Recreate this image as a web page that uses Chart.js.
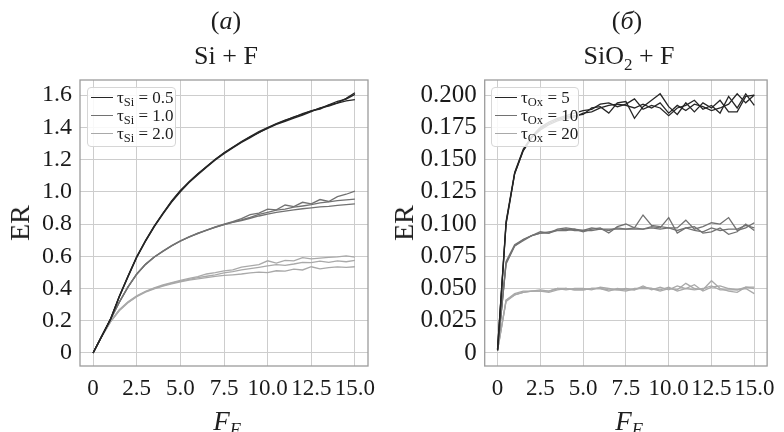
<!DOCTYPE html>
<html>
<head>
<meta charset="utf-8">
<script src="https://cdn.jsdelivr.net/npm/chart.js@4.4.1/dist/chart.umd.min.js"></script>
<style>
  body { margin: 0; background: #fff; }
  #wrap { position: relative; width: 784px; height: 432px; overflow: hidden;
          font-family: "Liberation Serif", "Times New Roman", serif; color: #1e1e1e; }
  canvas { position: absolute; top: 0; }
  .lbl { position: absolute; white-space: nowrap; line-height: 1; }
  .ttl { font-size: 26px; transform: translateX(-50%); }
  .ylab { font-size: 28px; transform: translate(-50%, -50%) rotate(-90deg); }
  .xlab { font-size: 27px; font-style: italic; transform: translateX(-50%); }
  .xlab span { font-size: 18px; position: relative; top: 6px; }
  .legend { position: absolute; border: 1px solid #d6d6d6; border-radius: 4px;
            background: rgba(255,255,255,0.85); box-sizing: border-box; }
  .lline { position: absolute; height: 0; width: 22px; border-top: 1.6px solid; }
  .ltxt { position: absolute; font-size: 17px; line-height: 18px; white-space: nowrap; }
  .ltxt span { font-size: 12.5px; position: relative; top: 3px; }
</style>
</head>
<body>
<div id="wrap">
  <canvas id="chartSi" width="392" height="432" style="left:0"></canvas>
  <canvas id="chartOx" width="392" height="432" style="left:392px"></canvas>

  <div class="lbl ttl" style="left:226px; top:8px">(<i>a</i>)</div>
  <div class="lbl ttl" style="left:226px; top:43px">Si + F</div>
  <div class="lbl ttl" style="left:627px; top:8px">(<i>б</i>)</div>
  <div class="lbl ttl" style="left:629px; top:43px">SiO<span style="font-size:17px; position:relative; top:6px">2</span> + F</div>

  <div class="lbl ylab" style="left:20px; top:223px">ER</div>
  <div class="lbl ylab" style="left:404px; top:223px">ER</div>
  <div class="lbl xlab" style="left:227px; top:408px">F<span>F</span></div>
  <div class="lbl xlab" style="left:629px; top:408px">F<span>F</span></div>

  <div class="legend" style="left:87px; top:87px; width:89px; height:60px">
    <div class="lline" style="left:3px; top:9px; border-color:#262626"></div>
    <div class="ltxt" style="left:29px; top:1px">τ<span>Si</span> = 0.5</div>
    <div class="lline" style="left:3px; top:27px; border-color:#727272"></div>
    <div class="ltxt" style="left:29px; top:19px">τ<span>Si</span> = 1.0</div>
    <div class="lline" style="left:3px; top:45px; border-color:#a9a9a9"></div>
    <div class="ltxt" style="left:29px; top:37px">τ<span>Si</span> = 2.0</div>
  </div>
  <div class="legend" style="left:491px; top:87px; width:88px; height:60px">
    <div class="lline" style="left:3px; top:9px; border-color:#262626"></div>
    <div class="ltxt" style="left:29px; top:1px">τ<span>Ox</span> = 5</div>
    <div class="lline" style="left:3px; top:27px; border-color:#727272"></div>
    <div class="ltxt" style="left:29px; top:19px">τ<span>Ox</span> = 10</div>
    <div class="lline" style="left:3px; top:45px; border-color:#a9a9a9"></div>
    <div class="ltxt" style="left:29px; top:37px">τ<span>Ox</span> = 20</div>
  </div>
</div>

<script>
// fluence points, 0..15 step 0.5
const xs = [0, 0.5, 1, 1.5, 2, 2.5, 3, 3.5, 4, 4.5, 5, 5.5, 6, 6.5, 7, 7.5,
  8, 8.5, 9, 9.5, 10, 10.5, 11, 11.5, 12, 12.5, 13, 13.5, 14, 14.5, 15];

// (a) Si + F, three runs for each tau
const si05a = [0, 0.105, 0.21, 0.352, 0.476, 0.596, 0.697, 0.787, 0.866, 0.941, 1.006, 1.062, 1.111, 1.157, 1.201, 1.243, 1.277, 1.312, 1.343, 1.374, 1.398, 1.423, 1.445, 1.462, 1.486, 1.503, 1.518, 1.54, 1.562, 1.575, 1.605];
const si05b = [0, 0.104, 0.208, 0.347, 0.472, 0.592, 0.692, 0.782, 0.862, 0.936, 1.0, 1.057, 1.106, 1.152, 1.197, 1.236, 1.272, 1.306, 1.336, 1.368, 1.393, 1.418, 1.437, 1.458, 1.476, 1.498, 1.521, 1.532, 1.55, 1.565, 1.572];
const si05c = [0, 0.106, 0.212, 0.35, 0.478, 0.598, 0.696, 0.786, 0.867, 0.943, 1.008, 1.061, 1.112, 1.156, 1.202, 1.241, 1.276, 1.309, 1.341, 1.367, 1.397, 1.421, 1.442, 1.465, 1.481, 1.503, 1.514, 1.538, 1.552, 1.58, 1.615];
const si10a = [0, 0.105, 0.21, 0.316, 0.41, 0.49, 0.551, 0.596, 0.633, 0.666, 0.696, 0.721, 0.744, 0.763, 0.782, 0.80, 0.815, 0.834, 0.858, 0.868, 0.893, 0.888, 0.918, 0.908, 0.935, 0.925, 0.952, 0.94, 0.97, 0.985, 1.005];
const si10b = [0, 0.104, 0.208, 0.314, 0.408, 0.488, 0.548, 0.594, 0.63, 0.664, 0.693, 0.72, 0.741, 0.762, 0.779, 0.797, 0.812, 0.826, 0.842, 0.86, 0.873, 0.886, 0.893, 0.905, 0.912, 0.92, 0.932, 0.938, 0.945, 0.95, 0.955];
const si10c = [0, 0.105, 0.209, 0.315, 0.41, 0.49, 0.55, 0.596, 0.631, 0.665, 0.695, 0.718, 0.742, 0.76, 0.781, 0.796, 0.81, 0.822, 0.836, 0.85, 0.862, 0.872, 0.88, 0.888, 0.895, 0.9, 0.906, 0.91, 0.916, 0.92, 0.925];
const si20a = [0, 0.103, 0.196, 0.268, 0.318, 0.355, 0.383, 0.404, 0.422, 0.437, 0.451, 0.463, 0.474, 0.49, 0.498, 0.51, 0.515, 0.532, 0.54, 0.548, 0.572, 0.558, 0.575, 0.572, 0.592, 0.584, 0.588, 0.593, 0.596, 0.602, 0.595];
const si20b = [0, 0.103, 0.194, 0.265, 0.314, 0.352, 0.38, 0.401, 0.418, 0.433, 0.446, 0.456, 0.468, 0.476, 0.484, 0.497, 0.505, 0.515, 0.523, 0.531, 0.54, 0.548, 0.544, 0.552, 0.562, 0.56, 0.57, 0.562, 0.572, 0.566, 0.575];
const si20c = [0, 0.102, 0.193, 0.262, 0.312, 0.349, 0.377, 0.398, 0.414, 0.428, 0.441, 0.452, 0.46, 0.468, 0.475, 0.481, 0.485, 0.49, 0.497, 0.502, 0.498, 0.51, 0.508, 0.52, 0.515, 0.535, 0.522, 0.53, 0.534, 0.531, 0.535];

// (б) SiO2 + F
const ox5a = [0.003, 0.101, 0.139, 0.157, 0.167, 0.174, 0.178, 0.181, 0.183, 0.184, 0.185, 0.19, 0.191, 0.186, 0.194, 0.195, 0.182, 0.191, 0.196, 0.201, 0.191, 0.185, 0.194, 0.187, 0.194, 0.19, 0.196, 0.187, 0.187, 0.199, 0.2];
const ox5b = [0.003, 0.102, 0.14, 0.158, 0.168, 0.175, 0.179, 0.182, 0.184, 0.186, 0.188, 0.189, 0.193, 0.194, 0.191, 0.193, 0.197, 0.189, 0.192, 0.19, 0.184, 0.19, 0.192, 0.196, 0.189, 0.192, 0.186, 0.199, 0.19, 0.201, 0.192];
const ox5c = [0.002, 0.1, 0.139, 0.157, 0.167, 0.173, 0.177, 0.18, 0.182, 0.183, 0.186, 0.187, 0.19, 0.192, 0.193, 0.192, 0.19, 0.193, 0.19, 0.194, 0.186, 0.192, 0.188, 0.193, 0.191, 0.188, 0.19, 0.193, 0.201, 0.194, 0.2];
const ox10a = [0.002, 0.071, 0.084, 0.088, 0.091, 0.093, 0.094, 0.095, 0.096, 0.095, 0.095, 0.097, 0.096, 0.095, 0.097, 0.096, 0.097, 0.107, 0.099, 0.098, 0.097, 0.097, 0.103, 0.096, 0.098, 0.101, 0.1, 0.105, 0.095, 0.097, 0.101];
const ox10b = [0.002, 0.07, 0.083, 0.088, 0.091, 0.094, 0.093, 0.096, 0.097, 0.096, 0.094, 0.096, 0.097, 0.093, 0.098, 0.1, 0.097, 0.096, 0.098, 0.097, 0.105, 0.093, 0.097, 0.098, 0.093, 0.094, 0.097, 0.092, 0.094, 0.1, 0.095];
const ox10c = [0.002, 0.069, 0.083, 0.087, 0.091, 0.093, 0.093, 0.095, 0.095, 0.096, 0.095, 0.095, 0.096, 0.096, 0.096, 0.096, 0.096, 0.096, 0.097, 0.096, 0.097, 0.095, 0.097, 0.095, 0.094, 0.097, 0.095, 0.096, 0.096, 0.099, 0.097];
const ox20a = [0.002, 0.041, 0.045, 0.047, 0.048, 0.048, 0.047, 0.049, 0.05, 0.049, 0.049, 0.05, 0.05, 0.048, 0.05, 0.049, 0.049, 0.051, 0.05, 0.048, 0.05, 0.049, 0.054, 0.05, 0.049, 0.056, 0.05, 0.048, 0.047, 0.051, 0.051];
const ox20b = [0.002, 0.04, 0.045, 0.047, 0.048, 0.048, 0.048, 0.05, 0.049, 0.05, 0.05, 0.049, 0.051, 0.05, 0.049, 0.05, 0.049, 0.052, 0.049, 0.051, 0.049, 0.052, 0.05, 0.053, 0.048, 0.051, 0.052, 0.05, 0.049, 0.051, 0.05];
const ox20c = [0.002, 0.041, 0.046, 0.048, 0.048, 0.049, 0.048, 0.05, 0.05, 0.049, 0.049, 0.05, 0.05, 0.049, 0.049, 0.048, 0.05, 0.05, 0.05, 0.049, 0.051, 0.048, 0.05, 0.049, 0.05, 0.052, 0.049, 0.049, 0.049, 0.05, 0.046];

// tick values and labels
const xTickVals = [0, 2.5, 5, 7.5, 10, 12.5, 15];
const xTickLabels = ["0", "2.5", "5.0", "7.5", "10.0", "12.5", "15.0"];
const ySiTickVals = [0, 0.2, 0.4, 0.6, 0.8, 1.0, 1.2, 1.4, 1.6];
const ySiTickLabels = ["0", "0.2", "0.4", "0.6", "0.8", "1.0", "1.2", "1.4", "1.6"];
const yOxTickVals = [0, 0.025, 0.05, 0.075, 0.1, 0.125, 0.15, 0.175, 0.2];
const yOxTickLabels = ["0", "0.025", "0.050", "0.075", "0.100", "0.125", "0.150", "0.175", "0.200"];

const dark = "#262626";
const mid = "#727272";
const light = "#a9a9a9";
const gridColor = "#cdcdcd";

function run(ys, color) {
  return {
    data: xs.map((x, i) => ({ x: x, y: ys[i] })),
    borderColor: color,
    borderWidth: 1.3,
    pointRadius: 0,
    fill: false,
    tension: 0,
  };
}

// box around the plot area
const framePlugin = {
  id: "frame",
  afterDatasetsDraw(chart) {
    const { ctx, chartArea: a } = chart;
    ctx.save();
    ctx.strokeStyle = "#9c9c9c";
    ctx.lineWidth = 1.3;
    ctx.strokeRect(a.left, a.top, a.right - a.left, a.bottom - a.top);
    ctx.restore();
  },
};

function makeOptions(yMin, yMax, yVals, yLabels, yWidth, padRight, xSize, ySize) {
  return {
    responsive: false,
    animation: false,
    devicePixelRatio: 1,
    layout: { padding: { top: 80, left: 0, right: padRight, bottom: 0 } },
    plugins: {
      legend: { display: false },
      tooltip: { enabled: false },
    },
    scales: {
      x: {
        type: "linear",
        min: -0.75,
        max: 15.75,
        afterBuildTicks: (s) => { s.ticks = xTickVals.map((v) => ({ value: v })); },
        afterFit: (s) => { s.height = 66; },
        ticks: {
          callback: (v, i) => xTickLabels[i],
          font: { family: "Liberation Serif", size: xSize },
          color: "#1a1a1a",
          padding: 9,
          maxRotation: 0,
          autoSkip: false,
        },
        grid: { color: gridColor, lineWidth: 1, drawTicks: false },
        border: { display: false },
      },
      y: {
        min: yMin,
        max: yMax,
        afterBuildTicks: (s) => { s.ticks = yVals.map((v) => ({ value: v })); },
        afterFit: (s) => { s.width = yWidth; },
        ticks: {
          callback: (v, i) => yLabels[i],
          font: { family: "Liberation Serif", size: ySize },
          color: "#1a1a1a",
          padding: 8,
          autoSkip: false,
        },
        grid: { color: gridColor, lineWidth: 1, drawTicks: false },
        border: { display: false },
      },
    },
  };
}

new Chart(document.getElementById("chartSi").getContext("2d"), {
  type: "line",
  data: {
    datasets: [
      run(si05a, dark), run(si05b, dark), run(si05c, dark),
      run(si10a, mid), run(si10b, mid), run(si10c, mid),
      run(si20a, light), run(si20b, light), run(si20c, light),
    ],
  },
  options: makeOptions(-0.081, 1.694, ySiTickVals, ySiTickLabels, 80, 24, 23, 24),
  plugins: [framePlugin],
});

new Chart(document.getElementById("chartOx").getContext("2d"), {
  type: "line",
  data: {
    datasets: [
      run(ox5a, dark), run(ox5b, dark), run(ox5c, dark),
      run(ox10a, mid), run(ox10b, mid), run(ox10c, mid),
      run(ox20a, light), run(ox20b, light), run(ox20c, light),
    ],
  },
  options: makeOptions(-0.0101, 0.2117, yOxTickVals, yOxTickLabels, 92.7, 13, 23, 25),
  plugins: [framePlugin],
});
</script>
</body>
</html>
